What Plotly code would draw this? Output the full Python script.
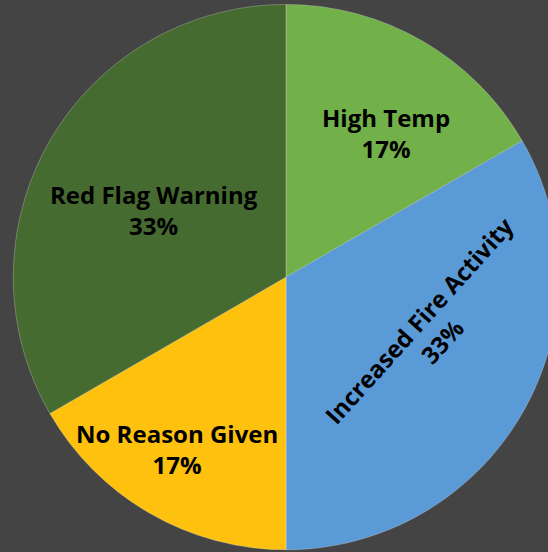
import plotly.graph_objects as go

categories = ["High Temp", "Increased Fire Activity", "No Reason Given", "Red Flag Warning"]
counts = [1, 2, 1, 2]
colors = ["#72B04A", "#5A9AD7", "#FDC10E", "#466B30"]

W, H = 572, 552
total = sum(counts)
pcts = [f"{round(100 * c / total)}%" for c in counts]

fig = go.Figure(go.Pie(
    labels=categories,
    values=counts,
    sort=False,
    direction="clockwise",
    rotation=0,
    marker=dict(colors=colors, line=dict(color="rgba(255,255,255,0.25)", width=1)),
    textinfo="none",
    hoverinfo="label+percent",
    showlegend=False,
    domain=dict(x=[0, 1], y=[0.004, 0.992]),
))

# label placement (pixel centres of each label block) and angle
label_pos = [(386, 133, 0), (430, 331, -48), (177, 449, 0), (154, 210, 0)]
for cat, pct, (px, py, ang) in zip(categories, pcts, label_pos):
    fig.add_annotation(
        x=px / W, y=1 - py / H, xref="paper", yref="paper",
        text=f"<b>{cat}<br>{pct}</b>", showarrow=False, textangle=ang,
        font=dict(family="Open Sans", size=24, color="black"),
        xanchor="center", yanchor="middle",
    )

fig.update_layout(
    width=W, height=H,
    margin=dict(l=0, r=0, t=0, b=0),
    paper_bgcolor="#444444",
    plot_bgcolor="#444444",
)

fig.write_html(
    "out.html",
    post_script="document.documentElement.style.overflow='hidden';document.body.style.overflow='hidden';document.body.style.margin='0';",
)
